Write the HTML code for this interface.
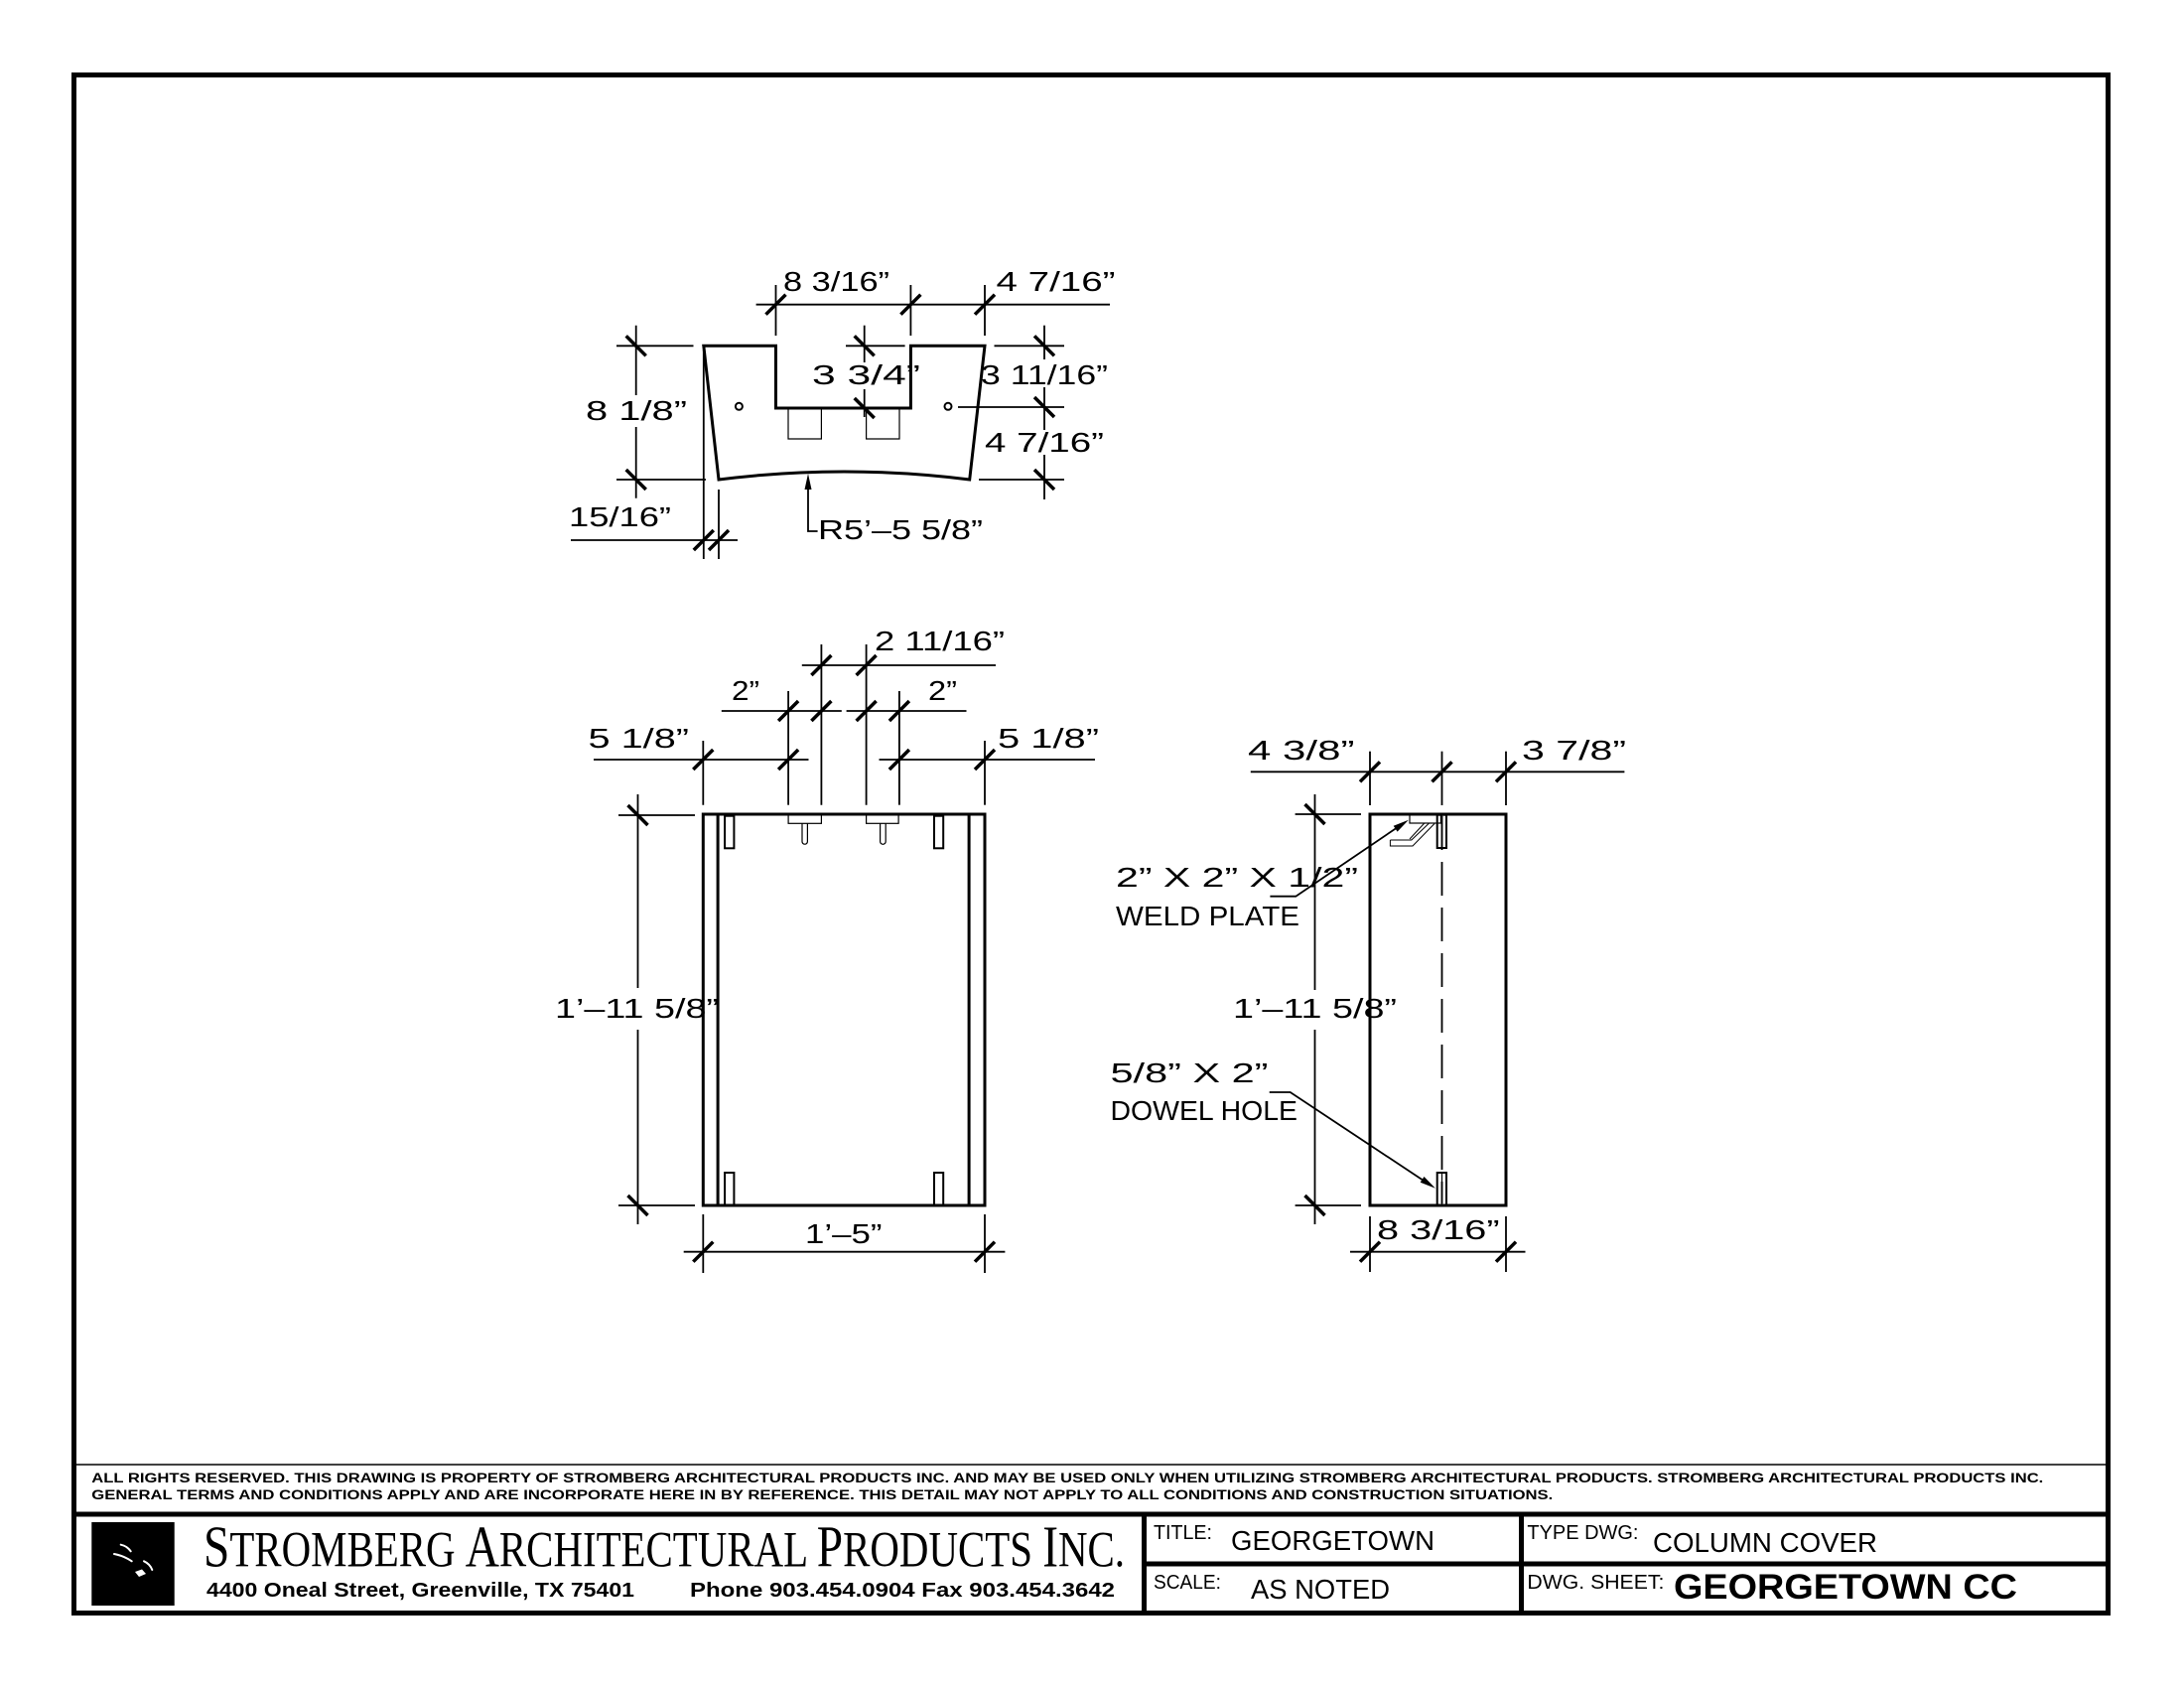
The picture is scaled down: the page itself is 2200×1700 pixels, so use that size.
<!DOCTYPE html>
<html><head><meta charset="utf-8"><style>
html,body{margin:0;padding:0;background:#fff}
svg{display:block}
.t{font-family:"Liberation Sans",sans-serif;font-size:28px;fill:#000}
.n{font-family:"Liberation Sans",sans-serif;font-size:13.5px;font-weight:bold;fill:#000}
.lb{font-family:"Liberation Sans",sans-serif;font-size:20px;fill:#000}
.v{font-family:"Liberation Sans",sans-serif;font-size:28px;fill:#000}
</style></head><body>
<svg width="2200" height="1700" viewBox="0 0 2200 1700" xmlns="http://www.w3.org/2000/svg">
<rect width="2200" height="1700" fill="#fff"/>

<!-- Border and title block frame -->
<g fill="none" stroke="#000">
<rect x="74.5" y="75.5" width="2049" height="1549" stroke-width="5"/>
<line x1="74.5" y1="1475" x2="2123.5" y2="1475" stroke-width="1.5"/>
<line x1="74.5" y1="1525" x2="2123.5" y2="1525" stroke-width="5"/>
<line x1="1152.5" y1="1525" x2="1152.5" y2="1624.5" stroke-width="5"/>
<line x1="1532.5" y1="1525" x2="1532.5" y2="1624.5" stroke-width="5"/>
<line x1="1152.5" y1="1575" x2="2123.5" y2="1575" stroke-width="5"/>
</g>

<!-- ===== TOP VIEW ===== -->
<g fill="none" stroke="#000">
<path d="M708.8,348.3 L781.5,348.3 L781.5,411 L917.4,411 L917.4,348.3 L992,348.3 L976.7,483 Q850.4,467 724,483 Z" stroke-width="3" stroke-linejoin="miter"/>
<circle cx="744.4" cy="409.3" r="3.5" stroke-width="2"/>
<circle cx="955" cy="409.3" r="3.5" stroke-width="2"/>
<polyline points="794,411 794,442 827.4,442 827.4,411" stroke-width="1.2"/>
<polyline points="872.6,411 872.6,442 906,442 906,411" stroke-width="1.2"/>
</g>
<g fill="none" stroke="#000" stroke-width="1.8">
<!-- top horizontal dim -->
<line x1="761.6" y1="306.7" x2="1118" y2="306.7"/>
<line x1="781.5" y1="287" x2="781.5" y2="338"/>
<line x1="917.4" y1="287" x2="917.4" y2="338"/>
<line x1="992" y1="287" x2="992" y2="338"/>
<!-- left vertical dim -->
<line x1="640.7" y1="327.7" x2="640.7" y2="398"/>
<line x1="640.7" y1="430" x2="640.7" y2="501.7"/>
<line x1="621" y1="348.3" x2="698.5" y2="348.3"/>
<line x1="621" y1="483" x2="711" y2="483"/>
<!-- 3 3/4 -->
<line x1="870.7" y1="327.7" x2="870.7" y2="365"/>
<line x1="870.7" y1="392" x2="870.7" y2="420"/>
<line x1="852" y1="348.3" x2="911.6" y2="348.3"/>
<!-- right vertical dims -->
<line x1="1052" y1="327.7" x2="1052" y2="362"/>
<line x1="1052" y1="390" x2="1052" y2="433"/>
<line x1="1052" y1="458" x2="1052" y2="503"/>
<line x1="1001.5" y1="348.3" x2="1072" y2="348.3"/>
<line x1="965" y1="410" x2="1072" y2="410"/>
<line x1="986" y1="483" x2="1072" y2="483"/>
<!-- 15/16 -->
<line x1="575" y1="544" x2="743" y2="544"/>
<line x1="708.8" y1="352" x2="708.8" y2="563"/>
<line x1="724" y1="493" x2="724" y2="563"/>
<!-- R leader -->
<polyline points="814,490 814,535 823.6,535"/>
</g>
<polygon points="814,477 810.5,493 817.5,493" fill="#000"/>

<!-- ===== FRONT VIEW ===== -->
<g fill="none" stroke="#000">
<rect x="708.3" y="820" width="283.7" height="394" stroke-width="3"/>
<line x1="723.1" y1="820" x2="723.1" y2="1214" stroke-width="3"/>
<line x1="976.1" y1="820" x2="976.1" y2="1214" stroke-width="3"/>
<rect x="730.1" y="821.7" width="9.3" height="32.6" stroke-width="2"/>
<rect x="941" y="821.7" width="9.2" height="32.6" stroke-width="2"/>
<rect x="730.1" y="1181" width="9.3" height="33" stroke-width="2"/>
<rect x="941" y="1181" width="9.2" height="33" stroke-width="2"/>
<rect x="794.1" y="820" width="33.3" height="9.3" stroke-width="1.2"/>
<rect x="872.6" y="820" width="32.5" height="9.3" stroke-width="1.2"/>
<path d="M808,829.3 V847.5 A2.7,2.7 0 0 0 813.4,847.5 V829.3" stroke-width="1.2"/>
<path d="M886.6,829.3 V847.5 A2.7,2.7 0 0 0 892.2,847.5 V829.3" stroke-width="1.2"/>
</g>
<g fill="none" stroke="#000" stroke-width="1.8">
<!-- 5 1/8 row -->
<line x1="598" y1="765" x2="814.5" y2="765"/>
<line x1="885.5" y1="765" x2="1103" y2="765"/>
<!-- 2" row -->
<line x1="726.8" y1="716" x2="847.8" y2="716"/>
<line x1="852.6" y1="716" x2="973.5" y2="716"/>
<!-- 2 11/16 row -->
<line x1="807.8" y1="670" x2="1003" y2="670"/>
<!-- ext lines -->
<line x1="708.3" y1="746" x2="708.3" y2="810.7"/>
<line x1="794.1" y1="696" x2="794.1" y2="810.7"/>
<line x1="827.4" y1="649" x2="827.4" y2="810.7"/>
<line x1="872.6" y1="649" x2="872.6" y2="810.7"/>
<line x1="905.9" y1="696" x2="905.9" y2="810.7"/>
<line x1="992" y1="746" x2="992" y2="810.7"/>
<!-- left vertical -->
<line x1="642.5" y1="800" x2="642.5" y2="995"/>
<line x1="642.5" y1="1037" x2="642.5" y2="1233"/>
<line x1="623" y1="821" x2="700" y2="821"/>
<line x1="623" y1="1214" x2="700" y2="1214"/>
<!-- bottom -->
<line x1="688.7" y1="1260.7" x2="1012.4" y2="1260.7"/>
<line x1="708.3" y1="1223" x2="708.3" y2="1282"/>
<line x1="992" y1="1223" x2="992" y2="1282"/>
</g>

<!-- ===== SIDE VIEW ===== -->
<g fill="none" stroke="#000">
<rect x="1380" y="820" width="137" height="394" stroke-width="3"/>
<line x1="1452.5" y1="822" x2="1452.5" y2="1212" stroke-width="1.8" stroke-dasharray="34 12"/>
<rect x="1447.7" y="820.7" width="9.3" height="33.3" stroke-width="2"/>
<rect x="1447.7" y="1181" width="9.3" height="33" stroke-width="2"/>
<line x1="1452.5" y1="821" x2="1452.5" y2="854" stroke-width="1.2"/>
<line x1="1452.5" y1="1181" x2="1452.5" y2="1214" stroke-width="1.2"/>
<rect x="1420" y="820.7" width="31.4" height="8.3" stroke-width="1.2"/>
<polyline points="1400.4,846 1421.8,846 1439.6,829" stroke-width="1"/>
<polyline points="1400.4,846 1400.4,852 1423,852 1445,829.5" stroke-width="1"/>
<line x1="1434.8" y1="829" x2="1420" y2="845" stroke-width="1"/>
</g>
<g fill="none" stroke="#000" stroke-width="1.8">
<line x1="1259.8" y1="777.3" x2="1636.4" y2="777.3"/>
<line x1="1380" y1="756.7" x2="1380" y2="811"/>
<line x1="1452.5" y1="756.7" x2="1452.5" y2="811"/>
<line x1="1517" y1="756.7" x2="1517" y2="811"/>
<line x1="1324.5" y1="800" x2="1324.5" y2="997"/>
<line x1="1324.5" y1="1037" x2="1324.5" y2="1233"/>
<line x1="1304.6" y1="820" x2="1371" y2="820"/>
<line x1="1304.6" y1="1214" x2="1371" y2="1214"/>
<line x1="1360" y1="1260.7" x2="1536.5" y2="1260.7"/>
<line x1="1380" y1="1225" x2="1380" y2="1281"/>
<line x1="1517" y1="1225" x2="1517" y2="1281"/>
<!-- leaders -->
<polyline points="1279.4,902.7 1305.3,902.7 1408,833"/>
<polyline points="1278.7,1100 1299.7,1100 1434,1189"/>
</g>
<polygon points="1418.9,825.7 1407.6,837.6 1403.7,831.8" fill="#000"/>
<polygon points="1445.9,1196.7 1430.7,1190.8 1434.5,1185" fill="#000"/>

<!-- ===== TICKS ===== -->
<g stroke="#000" stroke-width="3.5" fill="none">
<!-- horizontal dims: "/" -->
<path d="M771.5,316.7 L791.5,296.7 M907.4,316.7 L927.4,296.7 M982,316.7 L1002,296.7
M698.8,554 L718.8,534 M714,554 L734,534
M698.3,775 L718.3,755 M784.1,775 L804.1,755 M895.9,775 L915.9,755 M982,775 L1002,755
M784.1,726 L804.1,706 M817.4,726 L837.4,706 M862.6,726 L882.6,706 M895.9,726 L915.9,706
M817.4,680 L837.4,660 M862.6,680 L882.6,660
M698.3,1270.7 L718.3,1250.7 M982,1270.7 L1002,1250.7
M1370,787.3 L1390,767.3 M1442.5,787.3 L1462.5,767.3 M1507,787.3 L1527,767.3
M1370,1270.7 L1390,1250.7 M1507,1270.7 L1527,1250.7"/>
<!-- vertical dims: "\" -->
<path d="M630.7,338.3 L650.7,358.3 M630.7,473 L650.7,493
M860.7,338.3 L880.7,358.3 M860.7,401 L880.7,421
M1042,338.3 L1062,358.3 M1042,400 L1062,420 M1042,473 L1062,493
M632.5,811 L652.5,831 M632.5,1204 L652.5,1224
M1314.5,810 L1334.5,830 M1314.5,1204 L1334.5,1224"/>
</g>

<!-- ===== DIMENSION TEXT ===== -->
<g class="t">
<text x="789" y="293" textLength="107" lengthAdjust="spacingAndGlyphs">8 3/16”</text>
<text x="1003.5" y="293" textLength="120" lengthAdjust="spacingAndGlyphs">4 7/16”</text>
<text x="590" y="423" textLength="102" lengthAdjust="spacingAndGlyphs">8 1/8”</text>
<text x="818" y="387" textLength="109" lengthAdjust="spacingAndGlyphs">3 3/4”</text>
<text x="988" y="387" textLength="128" lengthAdjust="spacingAndGlyphs">3 11/16”</text>
<text x="992" y="455" textLength="120" lengthAdjust="spacingAndGlyphs">4 7/16”</text>
<text x="573" y="530" textLength="103" lengthAdjust="spacingAndGlyphs">15/16”</text>
<text x="824" y="543" textLength="166" lengthAdjust="spacingAndGlyphs">R5’–5 5/8”</text>

<text x="881" y="655" textLength="131" lengthAdjust="spacingAndGlyphs">2 11/16”</text>
<text x="737" y="705" textLength="28" lengthAdjust="spacingAndGlyphs">2”</text>
<text x="935" y="705" textLength="29" lengthAdjust="spacingAndGlyphs">2”</text>
<text x="592.5" y="753" textLength="101.5" lengthAdjust="spacingAndGlyphs">5 1/8”</text>
<text x="1005" y="753" textLength="102" lengthAdjust="spacingAndGlyphs">5 1/8”</text>
<text x="559" y="1025" textLength="165" lengthAdjust="spacingAndGlyphs">1’–11 5/8”</text>
<text x="811" y="1252" textLength="77.5" lengthAdjust="spacingAndGlyphs">1’–5”</text>

<text x="1257" y="765" textLength="107.5" lengthAdjust="spacingAndGlyphs">4 3/8”</text>
<text x="1533" y="765" textLength="105" lengthAdjust="spacingAndGlyphs">3 7/8”</text>
<text x="1124" y="893" textLength="244" lengthAdjust="spacingAndGlyphs">2” X 2” X 1/2”</text>
<text x="1124" y="932" textLength="185" lengthAdjust="spacingAndGlyphs">WELD PLATE</text>
<text x="1242" y="1025" textLength="165" lengthAdjust="spacingAndGlyphs">1’–11 5/8”</text>
<text x="1118.5" y="1090" textLength="159" lengthAdjust="spacingAndGlyphs">5/8” X 2”</text>
<text x="1118.5" y="1128" textLength="188.5" lengthAdjust="spacingAndGlyphs">DOWEL HOLE</text>
<text x="1387" y="1248" textLength="123.6" lengthAdjust="spacingAndGlyphs">8 3/16”</text>
</g>

<!-- ===== TITLE BLOCK TEXT ===== -->
<text class="n" x="92.3" y="1493" textLength="1966" lengthAdjust="spacingAndGlyphs">ALL RIGHTS RESERVED. THIS DRAWING IS PROPERTY OF STROMBERG ARCHITECTURAL PRODUCTS INC. AND MAY BE USED ONLY WHEN UTILIZING STROMBERG ARCHITECTURAL PRODUCTS.  STROMBERG ARCHITECTURAL PRODUCTS INC.</text>
<text class="n" x="92.3" y="1510" textLength="1472" lengthAdjust="spacingAndGlyphs">GENERAL TERMS AND CONDITIONS APPLY AND ARE INCORPORATE HERE IN BY REFERENCE.  THIS DETAIL MAY NOT APPLY TO ALL CONDITIONS AND CONSTRUCTION SITUATIONS.</text>

<!-- logo -->
<rect x="92.3" y="1533" width="83.4" height="84" fill="#000"/>
<g fill="none" stroke="#fff" stroke-width="2" stroke-linecap="round">
<path d="M121.7,1555.7 Q128,1557 131.7,1562.3"/>
<path d="M115,1565 Q125,1567 132.7,1572.3"/>
<path d="M145,1572.3 Q151,1575 153.3,1581"/>
</g>
<path d="M136,1583 L143,1580.5 L147,1585 L140,1588 Z" fill="#fff"/>

<text x="205" y="1577.7" textLength="928" lengthAdjust="spacingAndGlyphs" style="font-family:'Liberation Serif',serif;fill:#000"><tspan font-size="59">S</tspan><tspan font-size="51">TROMBERG </tspan><tspan font-size="59">A</tspan><tspan font-size="51">RCHITECTURAL </tspan><tspan font-size="59">P</tspan><tspan font-size="51">RODUCTS </tspan><tspan font-size="59">I</tspan><tspan font-size="51">NC.</tspan></text>
<text x="208" y="1608" textLength="431" lengthAdjust="spacingAndGlyphs" style="font-family:'Liberation Sans',sans-serif;font-size:20px;font-weight:bold;fill:#000">4400 Oneal Street, Greenville, TX  75401</text>
<text x="695" y="1608" textLength="428" lengthAdjust="spacingAndGlyphs" style="font-family:'Liberation Sans',sans-serif;font-size:20px;font-weight:bold;fill:#000">Phone 903.454.0904   Fax 903.454.3642</text>

<text class="lb" x="1162" y="1550" textLength="59" lengthAdjust="spacingAndGlyphs">TITLE:</text>
<text class="v" x="1240" y="1561" textLength="205" lengthAdjust="spacingAndGlyphs">GEORGETOWN</text>
<text class="lb" x="1538.4" y="1550" textLength="112" lengthAdjust="spacingAndGlyphs">TYPE DWG:</text>
<text class="v" x="1665" y="1563" textLength="226" lengthAdjust="spacingAndGlyphs">COLUMN COVER</text>
<text class="lb" x="1162" y="1600" textLength="68" lengthAdjust="spacingAndGlyphs">SCALE:</text>
<text class="v" x="1260" y="1610" textLength="140" lengthAdjust="spacingAndGlyphs">AS NOTED</text>
<text class="lb" x="1538.4" y="1600" textLength="138" lengthAdjust="spacingAndGlyphs">DWG. SHEET:</text>
<text x="1686" y="1610" textLength="346" lengthAdjust="spacingAndGlyphs" style="font-family:'Liberation Sans',sans-serif;font-size:35px;font-weight:bold;fill:#000">GEORGETOWN CC</text>
</svg>
</body></html>
